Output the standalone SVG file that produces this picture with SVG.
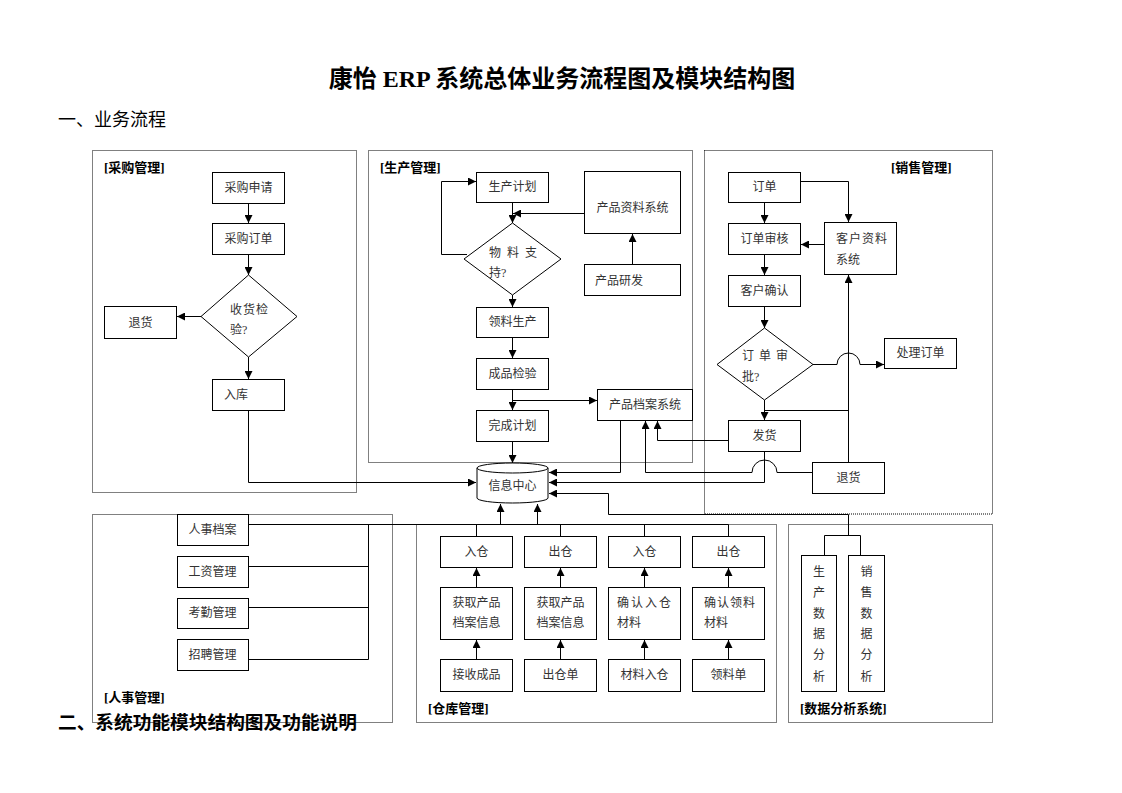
<svg xmlns="http://www.w3.org/2000/svg" width="1122" height="793" viewBox="0 0 1122 793">
<style>
.box{fill:#fff;stroke:#000;stroke-width:1}
.dot{fill:none;stroke:#000;stroke-width:1;stroke-dasharray:1 1}
.ln{fill:none;stroke:#000;stroke-width:1}
.arr{fill:none;stroke:#000;stroke-width:1;marker-end:url(#ah)}
.t{font-family:"Liberation Serif","Noto Sans CJK SC",serif;font-size:12px;fill:#333}
.c{text-anchor:middle}
.lbl{font-family:"Liberation Serif","Noto Sans CJK SC",serif;font-size:13px;font-weight:bold;fill:#000}
.h{font-family:"Liberation Serif","Noto Sans CJK SC",serif;fill:#000}
</style>
<defs>
<marker id="ah" markerWidth="8" markerHeight="8" refX="8" refY="4" orient="auto" markerUnits="userSpaceOnUse">
<path d="M0,0 L8,4 L0,8 z" fill="#000"/>
</marker>
</defs>
<rect width="1122" height="793" fill="#fff"/>
<text class="h" x="562" y="87" text-anchor="middle" font-size="24" font-weight="bold">康怡 ERP 系统总体业务流程图及模块结构图</text>
<text class="h" x="58" y="126" font-size="18">一、业务流程</text>

<g id="frames">
<rect class="dot" x="92.5" y="150.5" width="264" height="342"/>
<rect class="dot" x="368.5" y="150.5" width="324" height="312"/>
<rect class="dot" x="704.5" y="150.5" width="288" height="363.5"/>
<rect class="dot" x="92.5" y="514.5" width="300" height="208"/>
<rect class="dot" x="416.5" y="524.5" width="360" height="198"/>
<rect class="dot" x="788.5" y="524.5" width="204" height="198"/>
<text class="lbl" x="104" y="172">[采购管理]</text>
<text class="lbl" x="380" y="172">[生产管理]</text>
<text class="lbl" x="891" y="172">[销售管理]</text>
<text class="lbl" x="104" y="702">[人事管理]</text>
<text class="lbl" x="428" y="713">[仓库管理]</text>
<text class="lbl" x="800" y="713">[数据分析系统]</text>
</g>

<g id="connectors">
<path class="arr" d="M248.5,203 V223"/>
<path class="arr" d="M248.5,254 V275"/>
<path class="arr" d="M201,316.5 H177"/>
<path class="arr" d="M248.5,357 V379"/>
<path class="arr" d="M248.5,410 V482.5 H476"/>
<path class="arr" d="M512.5,202 V223"/>
<path class="arr" d="M467,254.5 H441.5 V181.5 H476"/>
<path class="arr" d="M584,213.5 H513"/>
<path class="arr" d="M632.5,264 V234"/>
<path class="arr" d="M512.5,295 V307"/>
<path class="arr" d="M512.5,337 V358"/>
<path class="arr" d="M512.5,389 V410"/>
<path class="arr" d="M512.5,400.5 H597"/>
<path class="arr" d="M512.5,441 V463"/>
<path class="arr" d="M620.5,420 V472.5 H549"/>
<path class="arr" d="M728,440.5 H657.5 V421"/>
<path class="arr" d="M812,472.5 H777 A12.5,12.5 0 0 0 752,472.5 H645.5 V421"/>
<path class="arr" d="M764.5,202 V223"/>
<path class="arr" d="M764.5,254 V275"/>
<path class="arr" d="M764.5,306 V328"/>
<path class="arr" d="M764.5,400 V420"/>
<path class="arr" d="M800,181.5 H848.5 V222"/>
<path class="arr" d="M824,244.5 H801"/>
<path class="arr" d="M848.5,462 V275"/>
<path class="ln" d="M764.5,410.5 H848.5"/>
<path class="arr" d="M813,364.5 H837 A11.5,11.5 0 0 1 860,364.5 H884"/>
<path class="arr" d="M764.5,451 V482.5 H549"/>
<path class="arr" d="M848.5,535.5 V514.5 H608.5 V493.5 H549"/>
<path class="ln" d="M824.5,555 V535.5 H860.5 V555"/>
<path class="ln" d="M248,524.5 H728.5"/>
<path class="ln" d="M248,566.5 H368.5 M248,607.5 H368.5 M248,659.5 H368.5 M368.5,524.5 V659.5"/>
<path class="arr" d="M500.5,524 V504"/>
<path class="arr" d="M537.5,524 V504"/>
<path class="ln" d="M476.5,524.5 V536 M560.5,524.5 V536 M644.5,524.5 V536 M728.5,524.5 V536"/>
<path class="arr" d="M476.5,659 V640"/>
<path class="arr" d="M476.5,587 V568"/>
<path class="arr" d="M560.5,659 V640"/>
<path class="arr" d="M560.5,587 V568"/>
<path class="arr" d="M644.5,659 V640"/>
<path class="arr" d="M644.5,587 V568"/>
<path class="arr" d="M728.5,659 V640"/>
<path class="arr" d="M728.5,587 V568"/>
</g>

<g id="n-cgsq"><rect class="box" x="212.5" y="172.5" width="72" height="31"/><text class="t c" x="248.5" y="192">采购申请</text></g>
<g id="n-cgdd"><rect class="box" x="212.5" y="223.5" width="72" height="31"/><text class="t c" x="248.5" y="243">采购订单</text></g>
<g id="n-shjy"><polygon class="box" points="248.5,275 297,316.5 248.5,357 201,316.5"/><text class="t" x="230" y="314" letter-spacing="1">收货检</text><text class="t" x="230" y="334">验?</text></g>
<g id="n-th1"><rect class="box" x="104.5" y="306.5" width="72" height="32"/><text class="t c" x="140.5" y="327">退货</text></g>
<g id="n-rk"><rect class="box" x="212.5" y="379.5" width="72" height="31"/><text class="t" x="224" y="399">入库</text></g>

<g id="n-scjh"><rect class="box" x="476.5" y="172.5" width="72" height="30"/><text class="t c" x="512.5" y="191">生产计划</text></g>
<g id="n-wlzc"><polygon class="box" points="512.5,223 561,259 512.5,295 464,259"/><text class="t" x="489" y="257" letter-spacing="6">物料支</text><text class="t" x="489" y="277">持?</text></g>
<g id="n-cpzl"><rect class="box" x="584.5" y="171.5" width="96" height="62"/><text class="t c" x="632.5" y="212">产品资料系统</text></g>
<g id="n-cpyf"><rect class="box" x="584.5" y="264.5" width="96" height="31"/><text class="t" x="595" y="285">产品研发</text></g>
<g id="n-llsc"><rect class="box" x="476.5" y="307.5" width="72" height="30"/><text class="t c" x="512.5" y="326">领料生产</text></g>
<g id="n-cpjy"><rect class="box" x="476.5" y="358.5" width="72" height="31"/><text class="t c" x="512.5" y="378">成品检验</text></g>
<g id="n-wcjh"><rect class="box" x="476.5" y="410.5" width="72" height="31"/><text class="t c" x="512.5" y="430">完成计划</text></g>
<g id="n-cpda"><rect class="box" x="597.5" y="389.5" width="95" height="31"/><text class="t c" x="645" y="409">产品档案系统</text></g>

<g id="n-dd"><rect class="box" x="728.5" y="172.5" width="72" height="30"/><text class="t c" x="764.5" y="191">订单</text></g>
<g id="n-ddsh"><rect class="box" x="728.5" y="223.5" width="72" height="31"/><text class="t c" x="764.5" y="243">订单审核</text></g>
<g id="n-khqr"><rect class="box" x="728.5" y="275.5" width="72" height="31"/><text class="t c" x="764.5" y="295">客户确认</text></g>
<g id="n-ddsp"><polygon class="box" points="764.5,328 813,364.5 764.5,400 717,364.5"/><text class="t" x="742" y="360" letter-spacing="5">订单审</text><text class="t" x="742" y="381">批?</text></g>
<g id="n-khzl"><rect class="box" x="824.5" y="222.5" width="72" height="52"/><text class="t" x="836" y="243" letter-spacing="1">客户资料</text><text class="t" x="836" y="264">系统</text></g>
<g id="n-cldd"><rect class="box" x="884.5" y="338.5" width="72" height="30"/><text class="t c" x="920.5" y="357">处理订单</text></g>
<g id="n-fh"><rect class="box" x="728.5" y="420.5" width="72" height="31"/><text class="t c" x="764.5" y="440">发货</text></g>
<g id="n-th2"><rect class="box" x="812.5" y="462.5" width="72" height="31"/><text class="t c" x="848.5" y="482">退货</text></g>

<g id="n-xxzx"><path class="box" d="M477,468 V498 A35.5,5 0 0 0 548,498 V468"/><ellipse class="box" cx="512.5" cy="468" rx="35.5" ry="5"/><text class="t c" x="512.5" y="490">信息中心</text></g>

<g id="n-rsda"><rect class="box" x="177.5" y="514.5" width="71" height="31"/><text class="t c" x="212.5" y="534">人事档案</text></g>
<g id="n-gzgl"><rect class="box" x="177.5" y="556.5" width="71" height="31"/><text class="t c" x="212.5" y="576">工资管理</text></g>
<g id="n-kqgl"><rect class="box" x="177.5" y="598.5" width="71" height="30"/><text class="t c" x="212.5" y="617">考勤管理</text></g>
<g id="n-zpgl"><rect class="box" x="177.5" y="639.5" width="71" height="31"/><text class="t c" x="212.5" y="659">招聘管理</text></g>

<g id="n-rc1"><rect class="box" x="440.5" y="536.5" width="72" height="31"/><text class="t c" x="476.5" y="556">入仓</text></g>
<g id="n-cc1"><rect class="box" x="524.5" y="536.5" width="72" height="31"/><text class="t c" x="560.5" y="556">出仓</text></g>
<g id="n-rc2"><rect class="box" x="608.5" y="536.5" width="72" height="31"/><text class="t c" x="644.5" y="556">入仓</text></g>
<g id="n-cc2"><rect class="box" x="692.5" y="536.5" width="72" height="31"/><text class="t c" x="728.5" y="556">出仓</text></g>
<g id="n-hq1"><rect class="box" x="440.5" y="587.5" width="72" height="52"/><text class="t c" x="476.5" y="607">获取产品</text><text class="t c" x="476.5" y="627">档案信息</text></g>
<g id="n-hq2"><rect class="box" x="524.5" y="587.5" width="72" height="52"/><text class="t c" x="560.5" y="607">获取产品</text><text class="t c" x="560.5" y="627">档案信息</text></g>
<g id="n-qrrc"><rect class="box" x="608.5" y="587.5" width="72" height="52"/><text class="t" x="617" y="607" letter-spacing="2">确认入仓</text><text class="t" x="617" y="627">材料</text></g>
<g id="n-qrll"><rect class="box" x="692.5" y="587.5" width="72" height="52"/><text class="t" x="704" y="607" letter-spacing="1">确认领料</text><text class="t" x="704" y="627">材料</text></g>
<g id="n-jscp"><rect class="box" x="440.5" y="659.5" width="72" height="32"/><text class="t c" x="476.5" y="679">接收成品</text></g>
<g id="n-ccd"><rect class="box" x="524.5" y="659.5" width="72" height="32"/><text class="t c" x="560.5" y="679">出仓单</text></g>
<g id="n-clrc"><rect class="box" x="608.5" y="659.5" width="72" height="32"/><text class="t c" x="644.5" y="679">材料入仓</text></g>
<g id="n-lld"><rect class="box" x="692.5" y="659.5" width="72" height="32"/><text class="t c" x="728.5" y="679">领料单</text></g>

<g id="n-scsj"><rect class="box" x="801.5" y="555.5" width="35" height="136"/>
<text class="t c" x="819" y="576">生</text><text class="t c" x="819" y="597">产</text><text class="t c" x="819" y="618">数</text><text class="t c" x="819" y="638">据</text><text class="t c" x="819" y="659">分</text><text class="t c" x="819" y="681">析</text></g>
<g id="n-xssj"><rect class="box" x="848.5" y="555.5" width="36" height="136"/>
<text class="t c" x="866.5" y="576">销</text><text class="t c" x="866.5" y="597">售</text><text class="t c" x="866.5" y="618">数</text><text class="t c" x="866.5" y="638">据</text><text class="t c" x="866.5" y="659">分</text><text class="t c" x="866.5" y="681">析</text></g>

<text class="h" x="58" y="729" font-size="18.7" font-weight="bold">二、系统功能模块结构图及功能说明</text>
</svg>
